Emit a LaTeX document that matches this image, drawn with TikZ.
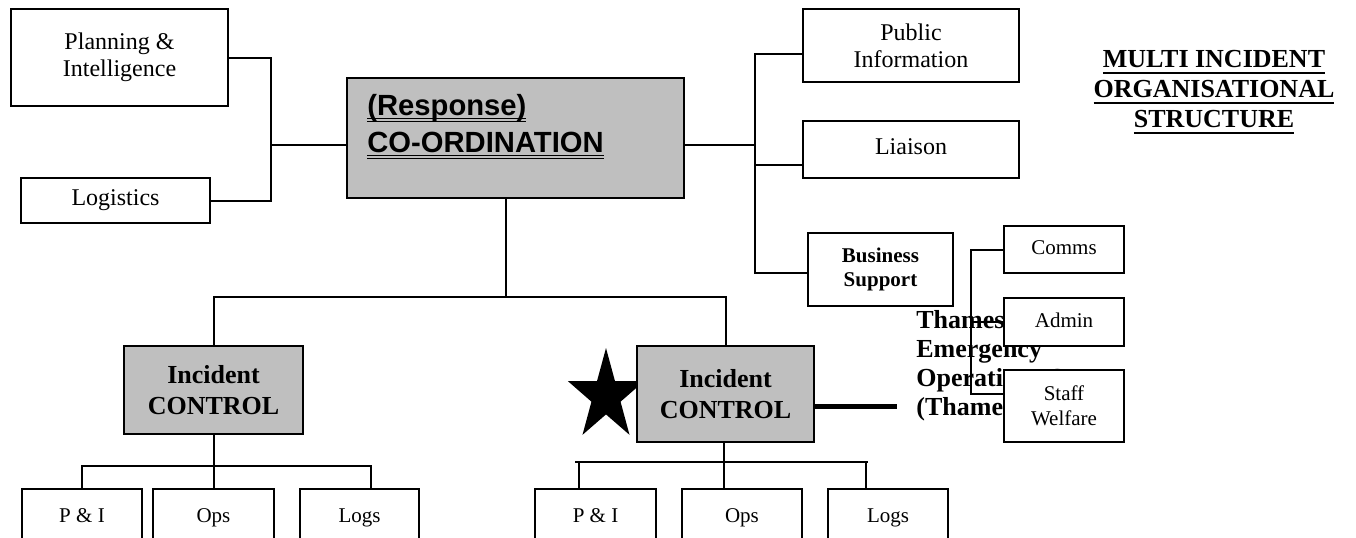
\documentclass[tikz,border=0pt]{standalone}
\usepackage{fontspec}
\setmainfont{Liberation Serif}
\newfontfamily\arialfont{Liberation Sans}
\usetikzlibrary{calc}
\colorlet{boxgrey}{black!25}
\newcommand\ulined[1]{\setbox0=\hbox{#1}\rlap{\rule[-3pt]{\wd0}{.9pt}}\box0}
\newcommand\dulined[1]{\setbox0=\hbox{#1}\rlap{\rule[-1.6pt]{\wd0}{.5pt}}\rlap{\rule[-3.1pt]{\wd0}{.5pt}}\box0}
\tikzstyle{orgbox}=[draw,line width=1pt,fill=white,inner sep=0pt,align=center,font=\fontsize{12}{13.5}\selectfont]
\tikzstyle{subbox}=[orgbox,font=\fontsize{10.5}{12.5}\selectfont]
\tikzstyle{ctrlbox}=[orgbox,fill=boxgrey,font=\bfseries\fontsize{13}{15.5}\selectfont]
\tikzstyle{link}=[line width=1pt]
\begin{document}
\begin{tikzpicture}[x=.5pt,y=-.5pt]
	\useasboundingbox (0,0) rectangle (1356,537);
	\clip (0,0) rectangle (1356,537);
	% text half hidden by the support boxes
	\node[anchor=north west,inner sep=0pt,align=left,font=\bfseries\fontsize{13}{14.5}\selectfont] (thames) at (916,310)
		{Thames\\Emergency\\Operations Centre\\(Thames)};
	\coordinate (starc) at (606,396);
	\fill ($(starc)+(90:20pt and 24pt)$)
		\foreach \a in {90,162,234,306} {-- ($(starc)+({\a+36}:7.65pt and 9.2pt)$) -- ($(starc)+({\a+72}:20pt and 24pt)$)}
		-- ($(starc)+(54:7.65pt and 9.2pt)$) -- cycle;
	% top level
	\node[orgbox,minimum width=108.5pt,minimum height=48.5pt] (plan) at (119.5,57.5) {Planning \&\\Intelligence};
	\node[orgbox,minimum width=94.5pt,minimum height=22.5pt] (logi) at (115.5,200.5) {\raisebox{-2pt}{Logistics\strut}};
	\node[orgbox,fill=boxgrey,minimum width=168.5pt,minimum height=60pt] (coord) at (515.5,138) {};
	\node[anchor=north west,inner sep=0pt,align=left,font=\arialfont\bfseries\fontsize{14.6}{18.5}\selectfont] (cotext) at (367,94)
		{\dulined{(Response)}\\\dulined{CO-ORDINATION}};
	\node[orgbox,minimum width=108pt,minimum height=36.5pt] (pubinfo) at (911,45.5) {Public\\Information};
	\node[orgbox,minimum width=108pt,minimum height=28.5pt] (liaison) at (911,149.5) {Liaison\strut};
	\node[orgbox,font=\bfseries\fontsize{10.5}{12}\selectfont,minimum width=72.5pt,minimum height=36.5pt] (bussup) at (880.5,269.5) {Business\\Support};
	\node[anchor=north,inner sep=0pt,align=center,font=\bfseries\fontsize{13}{15}\selectfont] (title) at (1214,50)
		{\ulined{MULTI INCIDENT}\\\ulined{ORGANISATIONAL}\\\ulined{STRUCTURE}};
	\node[subbox,minimum width=60pt,minimum height=23.5pt] (comms) at (1064,249.5) {Comms\strut};
	\node[subbox,minimum width=60pt,minimum height=24pt] (admin) at (1064,322) {Admin\strut};
	\node[subbox,minimum width=60pt,minimum height=36pt] (welfare) at (1064,406) {Staff\\Welfare};
	% incident controls
	\node[ctrlbox,minimum width=89.5pt,minimum height=44pt] (icleft) at (213.5,390) {Incident\\CONTROL};
	\node[ctrlbox,minimum width=88.5pt,minimum height=48pt] (icright) at (725.5,394) {Incident\\CONTROL};
	\node[subbox,minimum width=60pt,minimum height=28pt] (pil) at (82,517) {P \& I\strut};
	\node[subbox,minimum width=60.5pt,minimum height=28pt] (opsl) at (213.5,517) {Ops\strut};
	\node[subbox,minimum width=59.5pt,minimum height=28pt] (logsl) at (359.5,517) {Logs\strut};
	\node[subbox,minimum width=60.5pt,minimum height=28pt] (pir) at (595.5,517) {P \& I\strut};
	\node[subbox,minimum width=60pt,minimum height=28pt] (opsr) at (742,517) {Ops\strut};
	\node[subbox,minimum width=60pt,minimum height=28pt] (logsr) at (888,517) {Logs\strut};
	% left branch
	\coordinate (lspine) at (271,145);
	\draw[link] (plan.east) -| (lspine) |- (logi.east);
	\draw[link] (lspine) -- (lspine -| coord.west);
	% right branch
	\coordinate (rspine) at (755,145);
	\coordinate (rtop) at (755,54);
	\coordinate (rlia) at (755,165);
	\coordinate (rbot) at (755,273);
	\draw[link] (coord.east |- rspine) -- (rspine);
	\draw[link] (pubinfo.west |- rtop) -- (rtop) -- (rbot) -- (rbot -| bussup.west);
	\draw[link] (rlia) -- (rlia -| liaison.west);
	% down to the incidents
	\coordinate (cbus) at (506,297);
	\draw[link] (cbus |- coord.south) -- (cbus);
	\draw[link] (icleft.north) |- (cbus) -| (icright.north);
	\coordinate (lbus) at (213.5,466);
	\coordinate (lbusend) at (371,466);
	\draw[link] (icleft.south) -- (lbus);
	\draw[link] (pil.north) |- (lbusend) -- (lbusend |- logsl.north);
	\draw[link] (lbus) -- (lbus |- opsl.north);
	\coordinate (rbus) at (724,462);
	\coordinate (rbusl) at (579,462);
	\coordinate (rbusr) at (866,462);
	\draw[link] (rbus |- icright.south) -- (rbus);
	\draw[link] ([xshift=-2pt]rbusl) -- ([xshift=1pt]rbusr);
	\draw[link] (rbusl) -- (rbusl |- pir.north);
	\draw[link] (rbus) -- (rbus |- opsr.north);
	\draw[link] (rbusr) -- (rbusr |- logsr.north);
	\coordinate (thickend) at (897,406);
	\draw[line width=2.5pt] (thickend -| icright.east) -- (thickend);
	% support bracket
	\coordinate (btop) at (971,250);
	\coordinate (bbot) at (971,394);
	\draw[link] (comms.west |- btop) -- (btop) -- (bbot) -- (bbot -| welfare.west);
	\draw[link] (admin.west) -- (admin.west -| btop);
\end{tikzpicture}
\end{document}
